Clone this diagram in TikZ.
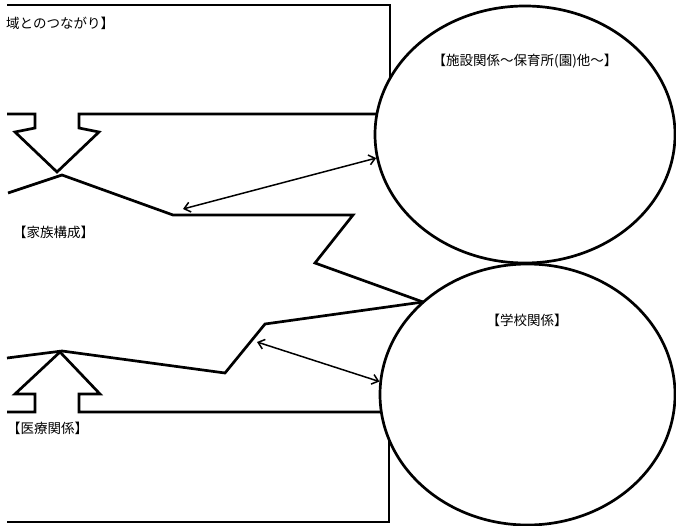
\documentclass[tikz,border=0pt]{standalone}
\usepackage{fontspec}
\setmainfont{Noto Sans CJK JP}
\usetikzlibrary{shapes.geometric,arrows.meta}
\begin{document}
\begin{tikzpicture}[x=1pt,y=-1pt,
  bold/.style={line width=2.7pt, line join=miter, line cap=butt},
  circ/.style={ellipse, draw, fill=white, line width=2.7pt, inner sep=0pt},
  link/.style={line width=1.5pt, {Straight Barb[length=6pt,width=10pt]}-{Straight Barb[length=6pt,width=10pt]}},
  lbl/.style={inner sep=0pt, font=\fontsize{13.5}{15}\selectfont}
]
\useasboundingbox (0,0) rectangle (676,526);
% frames and block arrows
\draw[bold] (7,5) -- (390,5) -- (390,110);
\draw[bold] (7,522) -- (389,522) -- (389,430);
\draw[bold] (7,114) -- (35,114) -- (35,128) -- (15,132) -- (57,172) -- (99,132) -- (79,128) -- (79,114) -- (400,114);
\draw[bold] (7,412) -- (35,412) -- (35,394) -- (15,394) -- (60,352) -- (100,394) -- (79,394) -- (79,412) -- (400,412);
% zigzag boundaries of family area
\coordinate (meet) at (423,302);
\draw[bold] (8,193) -- (62,175) -- (173,215) -- (353,215) -- (315,263) -- (meet);
\draw[bold] (7,358) -- (62,351) -- (225,373) -- (265,324) -- (meet);
% ellipses
\node[circ, minimum width=300pt, minimum height=257pt] (fac) at (525,134.5) {};
\node[circ, minimum width=295pt, minimum height=261pt] (sch) at (527.5,394.5) {};
% labels
\node[lbl, anchor=west] (chiiki) at (6,23) {域とのつながり】};
\node[lbl, anchor=west] (kazoku) at (13,232) {【家族構成】};
\node[lbl, anchor=west] (iryo) at (7,428) {【医療関係】};
\node[lbl] (facl) at (525,61) {【施設関係～保育所(園)他～】};
\node[lbl] (schl) at (527,320) {【学校関係】};
% double arrows
\coordinate (a1) at (183,209);
\coordinate (a2) at (257,342);
\draw[link] (a1) -- (fac.189.8);
\draw[link] (a2) -- (sch.175.5);
\end{tikzpicture}
\end{document}
